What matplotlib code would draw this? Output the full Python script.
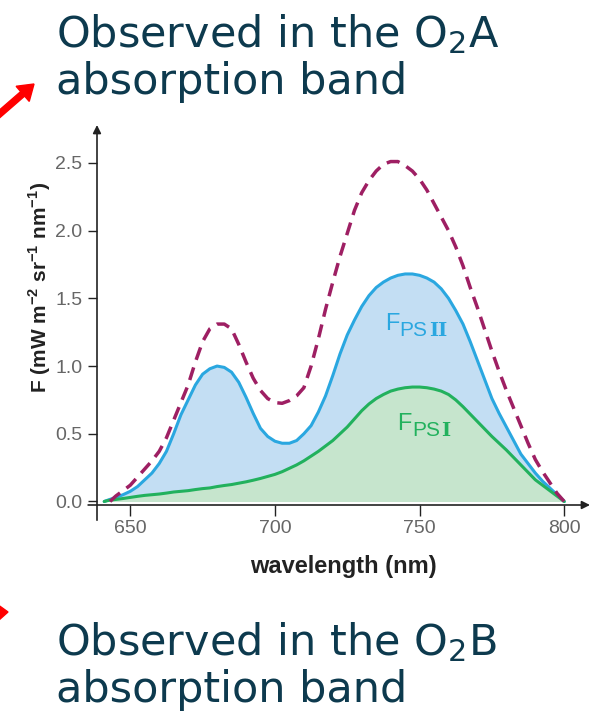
import matplotlib
matplotlib.use('Agg')
import matplotlib.pyplot as plt

plt.rcParams['mathtext.fontset'] = 'custom'
plt.rcParams['mathtext.rm'] = 'Liberation Sans'
plt.rcParams['mathtext.bf'] = 'Liberation Sans:bold'

# data (nm, mW m-2 sr-1 nm-1)
wl = [641, 642.5, 645, 647.5, 650, 652.5, 655, 657.5, 660, 662.5, 665, 667.5,
      670, 672.5, 675, 677.5, 680, 682.5, 685, 687.5, 690, 692.5, 695, 697.5,
      700, 702.5, 705, 707.5, 710, 712.5, 715, 717.5, 720, 722.5, 725, 727.5,
      730, 732.5, 735, 737.5, 740, 742.5, 745, 747.5, 750, 752.5, 755, 757.5,
      760, 762.5, 765, 767.5, 770, 772.5, 775, 777.5, 780, 782.5, 785, 787.5,
      790, 792.5, 795, 797.5, 800]

f_psii = [0.0, 0.012, 0.03, 0.05, 0.075, 0.11, 0.16, 0.21, 0.28, 0.37, 0.50, 0.64,
          0.75, 0.86, 0.94, 0.98, 1.0, 0.99, 0.955, 0.88, 0.77, 0.65, 0.54, 0.48,
          0.445, 0.43, 0.43, 0.45, 0.50, 0.56, 0.66, 0.78, 0.93, 1.09, 1.23, 1.34,
          1.44, 1.52, 1.58, 1.62, 1.65, 1.67, 1.68, 1.68, 1.67, 1.65, 1.62, 1.57,
          1.50, 1.41, 1.31, 1.18, 1.04, 0.90, 0.76, 0.65, 0.55, 0.45, 0.35, 0.28,
          0.21, 0.15, 0.10, 0.05, 0.0]

f_psi = [0.0, 0.008, 0.015, 0.022, 0.03, 0.038, 0.045, 0.05, 0.055, 0.062, 0.07,
         0.075, 0.08, 0.088, 0.095, 0.10, 0.11, 0.118, 0.125, 0.135, 0.145, 0.157,
         0.17, 0.185, 0.20, 0.22, 0.245, 0.27, 0.30, 0.335, 0.37, 0.41, 0.45, 0.50,
         0.55, 0.61, 0.67, 0.72, 0.76, 0.79, 0.815, 0.83, 0.84, 0.845, 0.845, 0.84,
         0.83, 0.815, 0.79, 0.75, 0.70, 0.645, 0.59, 0.535, 0.48, 0.43, 0.38,
         0.325, 0.27, 0.215, 0.16, 0.12, 0.08, 0.04, 0.0]

wl_total = [643, 645, 647.5, 650, 652.5, 655, 657.5, 660, 662.5, 665, 667.5, 670,
            672.5, 675, 677.5, 680, 682.5, 685, 687.5, 690, 692.5, 695, 697.5, 700,
            702.5, 705, 707.5, 710, 712.5, 715, 717.5, 720, 722.5, 725, 727.5, 730,
            732.5, 735, 737.5, 740, 742.5, 745, 747.5, 750, 752.5, 755, 757.5, 760,
            762.5, 765, 767.5, 770, 772.5, 775, 777.5, 780, 782.5, 785, 787.5, 790,
            792.5, 795, 797.5, 800]
f_total = [0.0, 0.04, 0.08, 0.12, 0.18, 0.24, 0.30, 0.37, 0.47, 0.60, 0.73, 0.86,
           1.03, 1.18, 1.275, 1.31, 1.31, 1.275, 1.16, 1.03, 0.91, 0.82, 0.76, 0.73,
           0.725, 0.745, 0.78, 0.84, 1.0, 1.2, 1.42, 1.62, 1.81, 1.98, 2.15, 2.28,
           2.37, 2.44, 2.49, 2.51, 2.51, 2.48, 2.44, 2.38, 2.30, 2.20, 2.10, 2.0,
           1.88, 1.74, 1.58, 1.43, 1.27, 1.11, 0.96, 0.82, 0.69, 0.56, 0.43, 0.31,
           0.22, 0.14, 0.06, 0.0]

xticks = [650, 700, 750, 800]
yticks = [0.0, 0.5, 1.0, 1.5, 2.0, 2.5]

blue = '#2aa7e0'
blue_fill = '#c3def3'
green = '#22b15d'
green_fill = '#c6e5cd'
dashed = '#9e1f63'
axis_col = '#222222'
tick_col = '#666666'
title_col = '#0d3a4e'

W, H = 604, 721
fig = plt.figure(figsize=(W / 100, H / 100), dpi=100)
ax = fig.add_axes([97 / W, 1 - 505 / H, (590 - 97) / W, (505 - 125) / H])
ax.set_xlim(638.5, 808.9)
ax.set_ylim(-0.026, 2.78)

ax.fill_between(wl, 0, f_psii, color=blue_fill, lw=0)
ax.fill_between(wl, 0, f_psi, color=green_fill, lw=0)
ax.plot(wl, f_psii, color=blue, lw=2.2, solid_capstyle='round')
ax.plot(wl, f_psi, color=green, lw=2.2, solid_capstyle='round')
ax.plot(wl_total, f_total, color=dashed, lw=2.5, ls=(0, (3.8, 2.3)))

for s in ax.spines.values():
    s.set_visible(False)

# axis lines with arrows
ax.annotate('', xy=(0, 1), xytext=(0, -0.04), xycoords='axes fraction',
            arrowprops=dict(arrowstyle='-|>', color=axis_col, lw=1.2,
                            mutation_scale=12, shrinkA=0, shrinkB=0))
ax.annotate('', xy=(1, 0), xytext=(-0.018, 0), xycoords='axes fraction',
            arrowprops=dict(arrowstyle='-|>', color=axis_col, lw=1.2,
                            mutation_scale=12, shrinkA=0, shrinkB=0))

ax.set_xticks(xticks)
ax.set_xticklabels([str(v) for v in xticks])
ax.set_yticks(yticks)
ax.set_yticklabels(['%.1f' % v for v in yticks])
ax.tick_params(axis='both', direction='out', color=axis_col, width=1.0,
               labelcolor=tick_col, labelsize=14)
ax.tick_params(axis='y', length=6.5, pad=4)
ax.tick_params(axis='x', length=8, pad=3)
for lab in ax.get_xticklabels() + ax.get_yticklabels():
    lab.set_family('Liberation Sans')

ax.set_xlabel('wavelength (nm)', family='Liberation Sans', weight='bold',
              fontsize=17, color=axis_col, labelpad=13)
fig.text(40 / W, 1 - 287 / H,
         r'F (mW m$^{\mathbf{-2}}$ sr$^{\mathbf{-1}}$ nm$^{\mathbf{-1}}$)',
         family='Liberation Sans', weight='bold', fontsize=15, color=axis_col,
         rotation=90, ha='center', va='center')

# curve labels: F with a two-font subscript
renderer = fig.canvas.get_renderer()


def label(x, y, sub, col):
    t = ax.text(x, y, 'F', family='Liberation Sans', fontsize=17, color=col,
                ha='left', va='baseline')
    off = t.get_window_extent(renderer).width + 0.5
    t = ax.annotate('PS', xy=(x, y), xytext=(off, -6), textcoords='offset pixels',
                    family='Liberation Sans', fontsize=15, color=col,
                    ha='left', va='baseline')
    off += t.get_window_extent(renderer).width + 1
    ax.annotate(sub, xy=(x, y), xytext=(off, -6), textcoords='offset pixels',
                family='DejaVu Serif', weight='bold', fontsize=14, color=col,
                ha='left', va='baseline')


label(738.0, 1.267, 'II', blue)
label(742.2, 0.528, 'I', green)

# headings
fig.text(56 / W, 1 - 47 / H, r'Observed in the O$_\mathregular{2}$A',
         family='DejaVu Sans', fontsize=31, color=title_col, va='baseline')
fig.text(56 / W, 1 - 94 / H, 'absorption band',
         family='DejaVu Sans', fontsize=31, color=title_col, va='baseline')
fig.text(56 / W, 1 - 655 / H, r'Observed in the O$_\mathregular{2}$B',
         family='DejaVu Sans', fontsize=31, color=title_col, va='baseline')
fig.text(56 / W, 1 - 702 / H, 'absorption band',
         family='DejaVu Sans', fontsize=31, color=title_col, va='baseline')

# red pointers at the left edge
fig.patches.append(matplotlib.patches.FancyArrow(
    -4, H - 117, 38, 33, width=6, head_width=20, head_length=15,
    length_includes_head=True, color='red', transform=None))
fig.patches.append(matplotlib.patches.FancyArrow(
    -30, H - 614, 38, 2, width=6, head_width=16, head_length=10,
    length_includes_head=True, color='red', transform=None))

fig.savefig('out.png', dpi=100)
